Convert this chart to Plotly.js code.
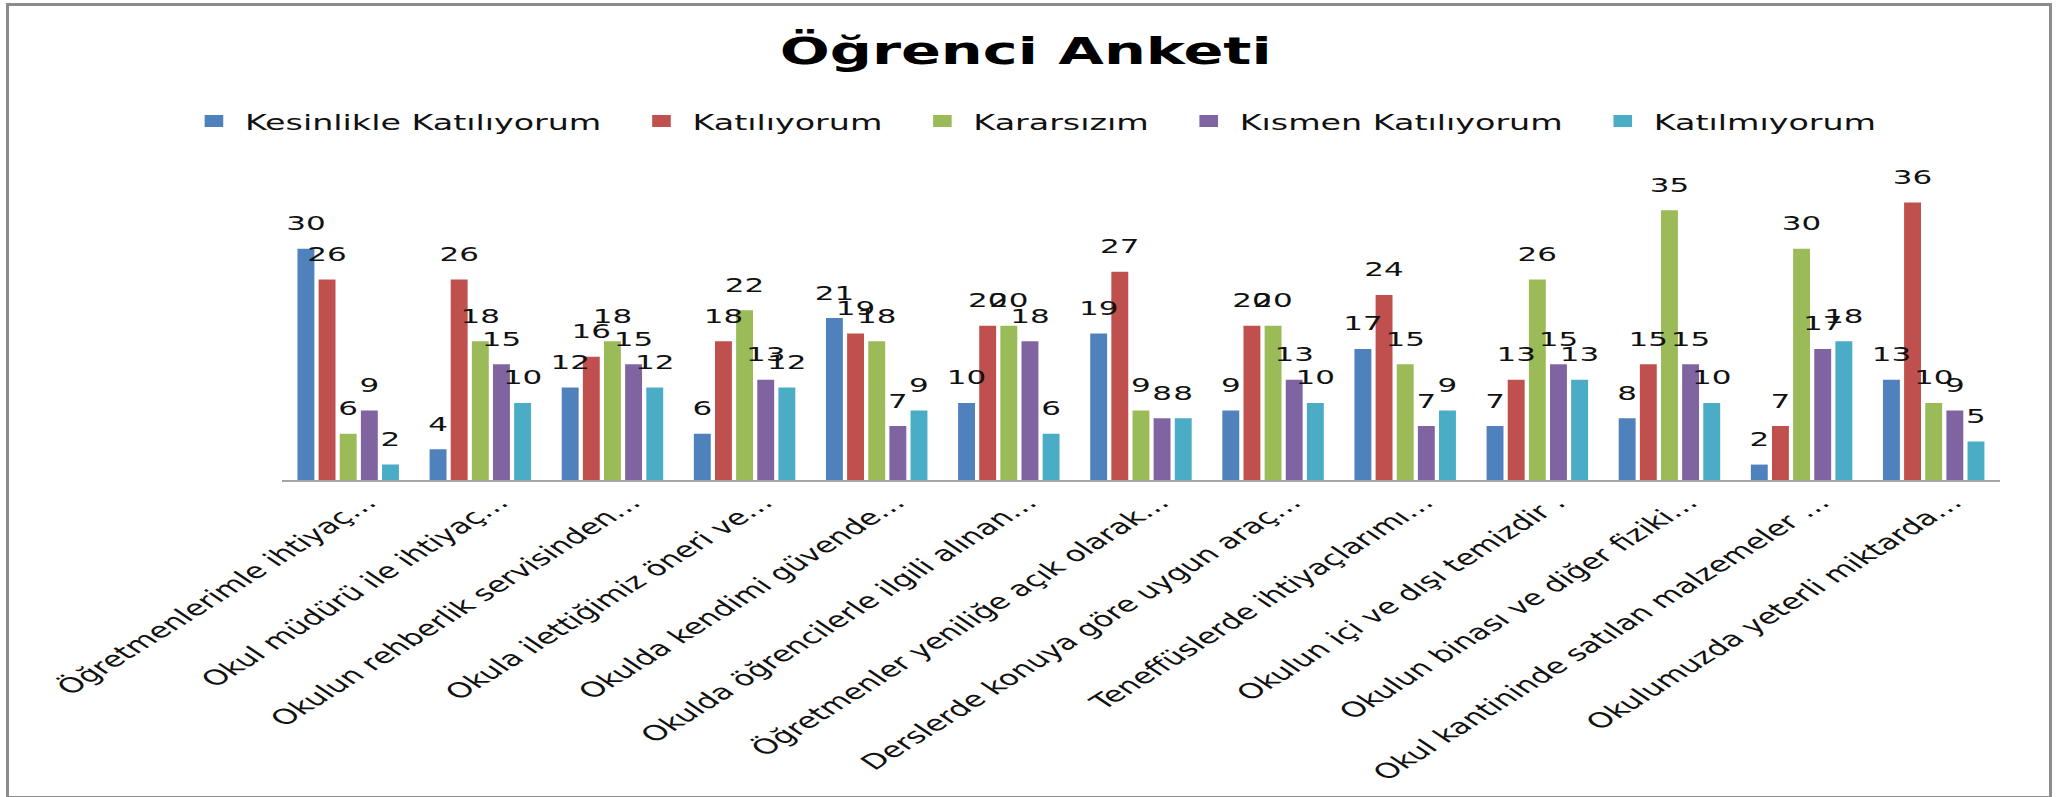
<!DOCTYPE html>
<html lang="tr">
<head>
  <meta charset="UTF-8" />
  <title>Öğrenci Anketi</title>
  <script src="https://cdn.plot.ly/plotly-3.0.1.min.js"></script>
  <style>
    body {
      margin: 0;
      background-color: white;
    }

    #wrap {
      position: relative;
      width: 2068px;
      height: 797px;
      overflow: hidden;
    }

    /* the original chart is a stretched office chart, so draw it narrower and widen it */
    #chart {
      width: 1334px;
      height: 797px;
      transform: scaleX(1.5502);
      transform-origin: 0 0;
    }

    .frame {
      position: absolute;
      left: 6px;
      top: 3px;
      width: 2040px;
      height: 790px;
      border: 3px solid #8c8c8c;
      pointer-events: none;
    }
  </style>
</head>
<body>
  <div id="wrap">
    <div id="chart"></div>
    <div class="frame"></div>
  </div>

  <script>
    const questions = [
      "Öğretmenlerimle ihtiyaç…",
      "Okul müdürü ile ihtiyaç…",
      "Okulun rehberlik servisinden…",
      "Okula ilettiğimiz öneri ve…",
      "Okulda kendimi güvende…",
      "Okulda öğrencilerle ilgili alınan…",
      "Öğretmenler yeniliğe açık olarak…",
      "Derslerde konuya göre uygun araç…",
      "Teneffüslerde ihtiyaçlarımı…",
      "Okulun içi ve dışı temizdir .",
      "Okulun binası ve diğer fiziki…",
      "Okul kantininde satılan malzemeler …",
      "Okulumuzda yeterli miktarda…"
    ];

    const answers = ["Kesinlikle Katılıyorum", "Katılıyorum", "Kararsızım", "Kısmen Katılıyorum", "Katılmıyorum"];

    const kesinlikleKatiliyorum = [30, 4, 12, 6, 21, 10, 19, 9, 17, 7, 8, 2, 13];
    const katiliyorum           = [26, 26, 16, 18, 19, 20, 27, 20, 24, 13, 15, 7, 36];
    const kararsizim            = [6, 18, 18, 22, 18, 20, 9, 20, 15, 26, 35, 30, 10];
    const kismenKatiliyorum     = [9, 15, 15, 13, 7, 18, 8, 13, 7, 15, 15, 17, 9];
    const katilmiyorum          = [2, 10, 12, 12, 9, 6, 8, 10, 9, 13, 10, 18, 5];

    const colors = ["#4F81BD", "#C0504D", "#9BBB59", "#8064A2", "#4BACC6"];
    const series = [kesinlikleKatiliyorum, katiliyorum, kararsizim, kismenKatiliyorum, katilmiyorum];

    const font = "DejaVu Sans, Verdana, sans-serif";
    const legendPad = "\u00a0\u00a0";  // a little more room between legend entries

    const bars = series.map((vals, i) => ({
      type: "bar",
      name: i < answers.length - 1 ? answers[i] + legendPad : answers[i],
      x: questions,
      y: vals,
      marker: { color: colors[i] },
      hovertemplate: "%{x}<br>" + answers[i] + ": %{y}<extra></extra>"
    }));

    // value labels sit a bit higher than plotly's "outside" text, so use grouped text points
    const labels = series.map((vals, i) => ({
      type: "scatter",
      mode: "markers+text",
      x: questions,
      y: vals,
      text: vals.map(String),
      textposition: "top center",
      textfont: { family: font, size: 20, color: "#111" },
      marker: { size: 20, opacity: 0 },
      cliponaxis: false,
      showlegend: false,
      hoverinfo: "skip"
    }));

    const layout = {
      width: 1334,
      height: 797,
      paper_bgcolor: "white",
      plot_bgcolor: "white",
      margin: { l: 182, r: 44, t: 187, b: 317 },
      barmode: "group",
      bargap: 0.2,
      bargroupgap: 0.2,
      scattermode: "group",
      scattergap: 0.2,
      title: {
        text: "<b>Öğrenci Anketi</b>",
        font: { family: font, size: 38, color: "#000" },
        xref: "container",
        yref: "container",
        x: 0.496,
        y: 0.937,
        xanchor: "center",
        yanchor: "middle"
      },
      legend: {
        orientation: "h",
        xref: "container",
        yref: "container",
        x: 0.5,
        y: 0.848,
        xanchor: "center",
        yanchor: "middle",
        font: { family: font, size: 21.5, color: "#111" }
      },
      xaxis: {
        type: "category",
        tickangle: -44,
        tickfont: { family: font, size: 21, color: "#111" },
        ticklabelshift: 12,
        showline: true,
        linecolor: "#a6a6a6",
        linewidth: 2,
        ticks: "",
        showgrid: false,
        zeroline: false
      },
      yaxis: {
        range: [0, 38],
        visible: false,
        showgrid: false,
        zeroline: false
      }
    };

    Plotly.newPlot("chart", bars.concat(labels), layout, { displayModeBar: false });
  </script>
</body>
</html>
